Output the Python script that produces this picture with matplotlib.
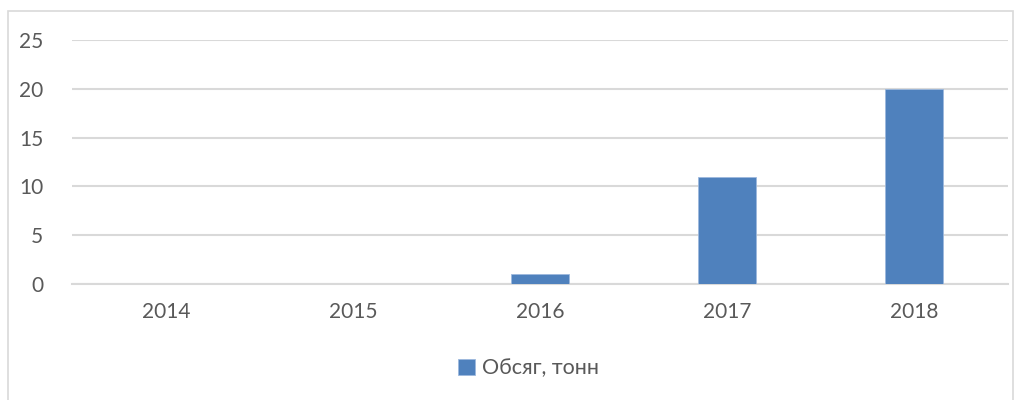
import matplotlib.pyplot as plt
from matplotlib.patches import Rectangle

plt.rcParams['font.family'] = ['Lato', 'Open Sans', 'DejaVu Sans']

# data
years = ['2014', '2015', '2016', '2017', '2018']
volume = [0, 0, 1, 11, 20]
series_name = 'Обсяг, тонн'
y_ticks = [0, 5, 10, 15, 20, 25]

text_color = '#595959'
grid_color = '#D9D9D9'
bar_color = '#4F81BD'

fig = plt.figure(figsize=(10.24, 4), dpi=100)
ax = fig.add_axes([0.0708, 0.29, 0.9131, 0.61])

# outer chart border like in Excel
fig.patches.append(Rectangle((8 / 1024, -0.05), (1013 - 8) / 1024, 1.05 - 11 / 400,
                             transform=fig.transFigure, fill=False,
                             edgecolor=grid_color, linewidth=1.2))

x = range(len(years))
ax.bar(x, volume, width=0.315, color=bar_color, edgecolor='#9DB9DD',
       linewidth=0.6, label=series_name, zorder=3)

ax.set_xlim(-0.5, len(years) - 0.5)
ax.set_ylim(0, 25)
ax.set_yticks(y_ticks)
ax.set_xticks(list(x))
ax.set_xticklabels(years)
ax.yaxis.grid(True, color=grid_color, linewidth=1.5, zorder=0)
ax.set_axisbelow(True)

for side in ['top', 'right', 'left']:
    ax.spines[side].set_visible(False)
ax.spines['bottom'].set_color(grid_color)
ax.spines['bottom'].set_linewidth(1.5)
ax.tick_params(axis='both', length=0, labelsize=15, colors=text_color)
ax.tick_params(axis='x', pad=13)
ax.tick_params(axis='y', pad=21)

leg = ax.legend(loc='center', bbox_to_anchor=(0.488, -0.345), frameon=False,
                fontsize=15.5, handlelength=0.75, handleheight=0.75, handletextpad=0.35)
for t in leg.get_texts():
    t.set_color(text_color)

fig.savefig('out.png', dpi=100)
